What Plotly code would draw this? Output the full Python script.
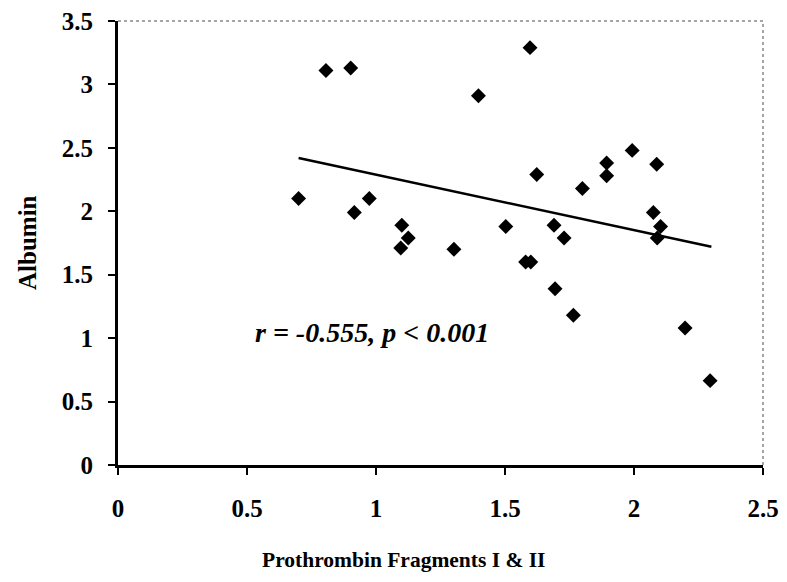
import plotly.graph_objects as go

# Data
prothrombin = [0.70, 0.806, 0.902, 0.916, 0.974, 1.096, 1.10, 1.125, 1.302, 1.397,
               1.503, 1.58, 1.597, 1.60, 1.623, 1.69, 1.694, 1.729, 1.765, 1.80,
               1.894, 1.894, 1.993, 2.075, 2.088, 2.09, 2.103, 2.198, 2.295]
albumin = [2.10, 3.11, 3.13, 1.99, 2.10, 1.71, 1.89, 1.79, 1.70, 2.91,
           1.88, 1.60, 3.29, 1.60, 2.29, 1.89, 1.39, 1.79, 1.18, 2.18,
           2.38, 2.28, 2.48, 1.99, 2.37, 1.79, 1.88, 1.08, 0.665]

trend_x = [0.70, 2.30]
trend_y = [2.42, 1.72]

x_ticks = [0, 0.5, 1, 1.5, 2, 2.5]
x_tick_labels = ["0", "0.5", "1", "1.5", "2", "2.5"]
y_ticks = [0, 0.5, 1, 1.5, 2, 2.5, 3, 3.5]
y_tick_labels = ["0", "0.5", "1", "1.5", "2", "2.5", "3", "3.5"]

x_title = "Prothrombin Fragments I &amp; II"
y_title = "Albumin"
stat_text = "r = -0.555, p &lt; 0.001"

FONT = "Liberation Serif"

fig = go.Figure()
fig.add_trace(go.Scatter(
    x=prothrombin, y=albumin, mode="markers",
    marker=dict(symbol="diamond", size=11.5, color="black"),
    showlegend=False, hoverinfo="x+y"))
fig.add_trace(go.Scatter(
    x=trend_x, y=trend_y, mode="lines",
    line=dict(color="black", width=2.5),
    showlegend=False, hoverinfo="skip"))

axis_common = dict(
    showgrid=False, zeroline=False, showline=True, linecolor="black", linewidth=3,
    ticks="outside", ticklen=7, tickwidth=2, tickcolor="black", automargin=False,
    ticklabeloverflow="allow",
    tickfont=dict(family=FONT, size=25, color="black", weight="bold"),
)

fig.update_layout(
    width=787, height=582,
    margin=dict(l=110, r=32, t=13, b=125),
    paper_bgcolor="white", plot_bgcolor="white",
    xaxis=dict(range=[0, 2.5], tickvals=x_ticks, ticktext=x_tick_labels,
               ticklabelstandoff=12, **axis_common),
    yaxis=dict(range=[0, 3.5], tickvals=y_ticks, ticktext=y_tick_labels,
               ticklabelstandoff=10, **axis_common),
    shapes=[
        dict(type="line", xref="paper", yref="paper", x0=0, x1=1, y0=1, y1=1,
             line=dict(color="#888888", width=1.5, dash="dot")),
        dict(type="line", xref="paper", yref="paper", x0=1, x1=1, y0=0, y1=1,
             line=dict(color="#888888", width=1.5, dash="dot")),
    ],
    annotations=[
        dict(text="<b>" + x_title + "</b>", xref="paper", yref="paper",
             x=(403 - 118) / 645, y=0, yshift=-95, showarrow=False,
             xanchor="center", yanchor="middle",
             font=dict(family=FONT, size=21.5, color="black")),
        dict(text="<b>" + y_title + "</b>", xref="paper", yref="paper",
             x=0, xshift=-91, y=0.5, textangle=-90, showarrow=False,
             xanchor="center", yanchor="middle",
             font=dict(family=FONT, size=25, color="black")),
        dict(text="<b><i>" + stat_text + "</i></b>", xref="paper", yref="paper",
             x=(372 - 118) / 645, y=(465 - 332) / 444, showarrow=False,
             xanchor="center", yanchor="middle",
             font=dict(family=FONT, size=28, color="black")),
    ],
)

fig.write_html("out.html")
